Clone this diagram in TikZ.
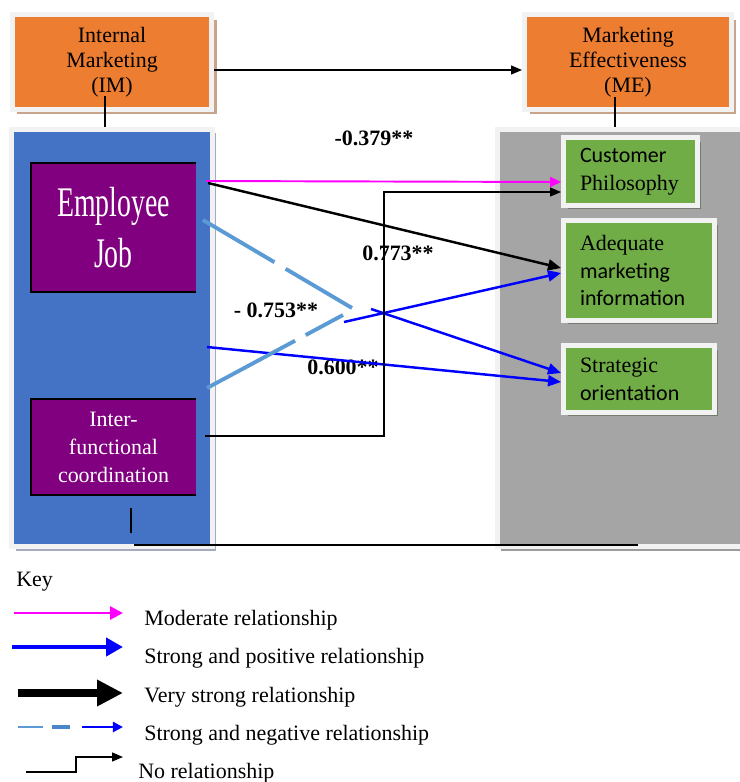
\documentclass[tikz,border=0pt]{standalone}
\usepackage{fontspec}
\setmainfont{Liberation Serif}
\newfontfamily\calibri{Carlito}
\newfontfamily\timesserif{Liberation Serif}
\newfontfamily\condserif[FakeStretch=0.66]{Liberation Serif}
\usetikzlibrary{arrows.meta,shadows}

\definecolor{imorange}{HTML}{ED7D31}
\definecolor{panelblue}{HTML}{4472C4}
\definecolor{panelgray}{HTML}{A5A5A5}
\definecolor{jobpurple}{HTML}{800080}
\definecolor{itemgreen}{HTML}{70AD47}
\definecolor{negblue}{HTML}{5B9BD5}
\definecolor{negmid}{HTML}{4A86C8}
\definecolor{modpink}{RGB}{255,0,255}
\definecolor{posblue}{RGB}{0,0,255}
\definecolor{rimgray}{HTML}{F2F2F2}
\definecolor{brownshade}{HTML}{C9A48C}
\definecolor{blueshade}{HTML}{A4ABBE}
\definecolor{grayshade}{HTML}{9C9C9C}
\definecolor{greenshade}{HTML}{767A70}

\tikzset{
  box/.style={draw=rimgray, line width=0.1cm, inner sep=0pt, align=center,
    font=\timesserif\fontsize{12.5}{14.2}\selectfont},
  headbox/.style={box, fill=imorange,
    drop shadow={shadow xshift=0.1cm, shadow yshift=-0.1cm, fill=brownshade, opacity=1}},
  panelbox/.style={box,
    drop shadow={shadow xshift=0.08cm, shadow yshift=-0.08cm, fill=#1, opacity=1}},
  factor/.style={fill=jobpurple, text=white, inner sep=0pt, align=center},
  item/.style={box, fill=itemgreen, align=left, inner xsep=0.33cm,
    font=\fontsize{12.5}{15.9}\selectfont,
    drop shadow={shadow xshift=0.08cm, shadow yshift=-0.08cm, fill=greenshade, opacity=1}},
  est/.style={font=\timesserif\bfseries\fontsize{12.5}{15}\selectfont},
  keytext/.style={anchor=west, inner sep=0pt, font=\timesserif\fontsize{12.5}{15}\selectfont},
  modrel/.style={modpink, line width=1.1pt, -{Triangle[length=0.22cm,width=0.2cm]}},
  posrel/.style={posblue, line width=1.4pt, -{Triangle[length=0.26cm,width=0.22cm]}},
  vsrel/.style={black, line width=1.4pt, -{Triangle[length=0.26cm,width=0.22cm]}},
  negrel/.style={negblue, line width=2.2pt},
  norel/.style={black, line width=0.8pt, -{Triangle[length=0.22cm,width=0.18cm]}}
}

\begin{document}
\begin{tikzpicture}[x=0.02cm,y=-0.02cm]
\useasboundingbox (0,0) rectangle (740,782);
\fill[white] (0,0) rectangle (740,782);

\node[headbox, minimum width=4cm, minimum height=1.9cm] (im) at (112,62) {Internal\\Marketing\\(IM)};
\node[headbox, minimum width=4.14cm, minimum height=1.9cm] (me) at (628,62) {Marketing\\Effectiveness\\(ME)};
\draw[norel] ([yshift=-0.16cm]im.east) -- ([yshift=-0.16cm]me.west);

\node[panelbox=blueshade, fill=panelblue, minimum width=4.01cm, minimum height=8.36cm] (lp) at (112,338) {};
\node[panelbox=grayshade, fill=panelgray, minimum width=5.06cm, minimum height=8.36cm] (rp) at (623.5,338) {};

\coordinate (imfoot) at (105,96);
\coordinate (mefoot) at (615,97);
\draw[line width=0.8pt] (imfoot) -- (imfoot |- lp.north);
\draw[line width=0.8pt] (mefoot) -- (mefoot |- rp.north);

\node[factor, minimum width=3.3cm, minimum height=2.58cm,
      font=\condserif\fontsize{24}{29.5}\selectfont] (ej) at (113.5,227.5) {Employee\\Job};
\node[factor, minimum width=3.3cm, minimum height=1.92cm,
      font=\timesserif\fontsize{12.5}{15.9}\selectfont] (ifc) at (113.5,447) {Inter-\\functional\\coordination};
\draw[line width=1.2pt] (ej.north east) -- (ej.north west) -- (ej.south west) -- (ej.south east);
\draw[line width=1.2pt] (ifc.north east) -- (ifc.north west) -- (ifc.south west) -- (ifc.south east);

\node[item, text width=2.02cm, minimum height=1.36cm] (cp) at (630.5,171.5) {{\calibri Customer}\\{\timesserif Philosophy}};
\node[item, text width=2.36cm, minimum height=2cm] (am) at (639,270.5) {{\timesserif Adequate}\\{\calibri marketing}\\{\calibri information}};
\node[item, text width=2.36cm, minimum height=1.34cm] (so) at (639,379) {{\timesserif Strategic}\\{\calibri orientation}};

\node[est] (r1) at (374,138) {-0.379**};
\node[est] (r2) at (398,253) {0.773**};
\node[est] (r3) at (276,310) {- 0.753**};
\node[est] (r4) at (343,367) {0.600**};

\coordinate (e1) at (206,181);
\coordinate (e2) at (208,183);
\coordinate (e3) at (203,220);
\coordinate (e3m) at (352,308);
\coordinate (e3b) at (371,309);
\coordinate (e4) at (207,347);
\coordinate (i1) at (207,388);
\coordinate (i1m) at (343,315);
\coordinate (i1b) at (344,322);
\coordinate (i2) at (205,436);

\draw[modrel] (e1) -- ([yshift=-0.21cm]cp.west);
\draw[vsrel] (e2) -- ([yshift=0.05cm]am.west);
\draw[negrel, dash pattern=on 1.66cm off 0.26cm] (e3) -- (e3m);
\draw[posrel] (e3b) -- ([yshift=0.12cm]so.west);
\draw[posrel] (e4) -- ([yshift=-0.06cm]so.west);
\draw[negrel, dash pattern=on 2cm off 0.24cm] (i1) -- (i1m);
\draw[posrel] (i1b) -- ([yshift=-0.05cm]am.west);
\draw[norel] (i2) -- ++(179,0) |- ([yshift=-0.41cm]cp.west);

\coordinate (ifoot) at (131,508);
\coordinate (bl) at (134,545);
\coordinate (br) at (638,545);
\draw[line width=0.8pt] (ifoot) -- ++(0,25);
\draw[line width=0.8pt] (bl) -- (br);

% key
\node[keytext] (key) at (16,582) {Key};
\coordinate (k1) at (14,613);
\coordinate (k2) at (12,647);
\coordinate (k3) at (18,693);
\coordinate (k4) at (18,727);
\coordinate (k5) at (26,772);
\draw[modpink, line width=1.6pt, -{Triangle[length=0.26cm,width=0.26cm]}] (k1) -- ++(109,0);
\draw[posblue, line width=2.8pt, -{Triangle[length=0.34cm,width=0.36cm]}] (k2) -- ++(111,0);
\draw[black, line width=4.5pt, -{Triangle[length=0.52cm,width=0.5cm]}] (k3) -- ++(105,0);
\draw[negblue, line width=1.1pt] (k4) -- ++(25,0);
\draw[negmid, line width=2.3pt] ([xshift=0.68cm]k4) -- ++(18,0);
\draw[posblue, line width=1.6pt, -{Triangle[length=0.2cm,width=0.2cm]}] ([xshift=1.28cm]k4) -- ++(41,0);
\draw[norel] (k5) -- ++(50,0) -- ++(0,-15) -- ++(47,0);
\node[keytext] (t1) at (144,620) {Moderate relationship};
\node[keytext] (t2) at (144,658) {Strong and positive relationship};
\node[keytext] (t3) at (144,697) {Very strong relationship};
\node[keytext] (t4) at (144,735) {Strong and negative relationship};
\node[keytext] (t5) at (138,773) {No relationship};
\end{tikzpicture}
\end{document}
